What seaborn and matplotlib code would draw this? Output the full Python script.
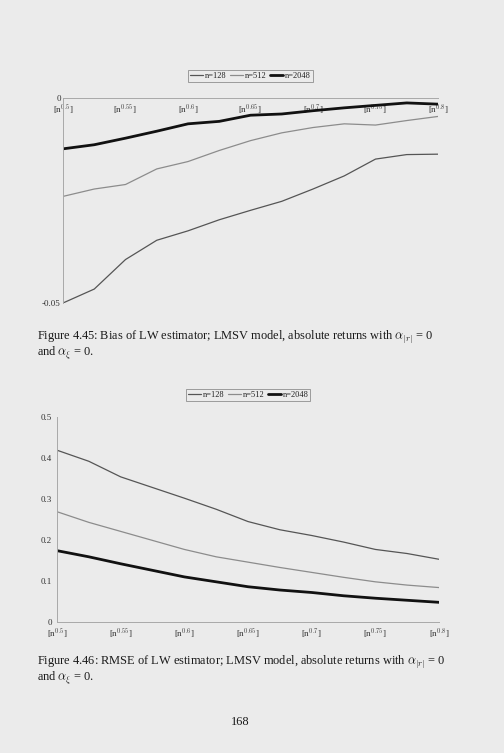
import numpy as np
import pandas as pd
import matplotlib
matplotlib.use("Agg")
import matplotlib.pyplot as plt
import seaborn as sns

# ---------------- data ----------------
exponents = [0.5, 0.525, 0.55, 0.575, 0.6, 0.625, 0.65, 0.675, 0.7, 0.725, 0.75, 0.775, 0.8]
xtick_vals = [0.5, 0.55, 0.6, 0.65, 0.7, 0.75, 0.8]
xtick_labels = ["[n$^{0.5}$]", "[n$^{0.55}$]", "[n$^{0.6}$]", "[n$^{0.65}$]",
                "[n$^{0.7}$]", "[n$^{0.75}$]", "[n$^{0.8}$]"]
series_names = ["n=128", "n=512", "n=2048"]

bias_128 = [-0.0500, -0.0466, -0.0394, -0.0347, -0.0324, -0.0297, -0.0274,
            -0.0252, -0.0222, -0.0190, -0.0149, -0.0138, -0.0137]
bias_512 = [-0.0240, -0.0222, -0.0211, -0.0173, -0.0155, -0.0128, -0.0104,
            -0.0085, -0.0072, -0.0063, -0.0066, -0.0055, -0.0045]
bias_2048 = [-0.0124, -0.0114, -0.0098, -0.0081, -0.0063, -0.0057, -0.0042,
             -0.0039, -0.0031, -0.0024, -0.0018, -0.0012, -0.0015]

rmse_128 = [0.419, 0.392, 0.354, 0.328, 0.302, 0.275, 0.245,
            0.225, 0.211, 0.195, 0.177, 0.167, 0.153]
rmse_512 = [0.269, 0.243, 0.221, 0.199, 0.177, 0.159, 0.146,
            0.133, 0.121, 0.109, 0.098, 0.090, 0.084]
rmse_2048 = [0.174, 0.159, 0.142, 0.126, 0.110, 0.098, 0.086,
             0.078, 0.072, 0.064, 0.058, 0.053, 0.048]

bias_yticks = [-0.05, 0]
bias_ylabels = ["-0.05", "0"]
rmse_yticks = [0, 0.1, 0.2, 0.3, 0.4, 0.5]
rmse_ylabels = ["0", "0.1", "0.2", "0.3", "0.4", "0.5"]

caption1_a = "Figure 4.45: Bias of LW estimator; LMSV model, absolute returns with $\\alpha_{|r|}$ = 0"
caption1_b = "and $\\alpha_{\\xi}$ = 0."
caption2_a = "Figure 4.46: RMSE of LW estimator; LMSV model, absolute returns with $\\alpha_{|r|}$ = 0"
caption2_b = "and $\\alpha_{\\xi}$ = 0."
page_number = "168"

# ---------------- style ----------------
sns.set_theme(style="white")
plt.rcParams["font.family"] = ["Liberation Serif", "DejaVu Serif"]
plt.rcParams["mathtext.fontset"] = "cm"

BG = "#ebebeb"
SPINE = "#a8a8a8"
styles = {
    "n=128": dict(color="#555555", lw=0.9),
    "n=512": dict(color="#8c8c8c", lw=0.9),
    "n=2048": dict(color="#111111", lw=2.0),
}

W, H = 504, 753
fig = plt.figure(figsize=(W / 100, H / 100), dpi=100, facecolor=BG)


def px_axes(left, right, top, bottom):
    return fig.add_axes([left / W, 1 - bottom / H, (right - left) / W, (bottom - top) / H])


def draw(ax, ys):
    ax.set_facecolor(BG)
    df = pd.DataFrame({
        "x": exponents * 3,
        "y": ys[0] + ys[1] + ys[2],
        "n": [s for s in series_names for _ in exponents],
    })
    for name in series_names:
        sub = df[df["n"] == name]
        sns.lineplot(data=sub, x="x", y="y", ax=ax, label=name, **styles[name])
    ax.set_xlim(exponents[0], exponents[-1])
    ax.set_xticks(xtick_vals)
    ax.set_xticklabels(xtick_labels)
    ax.set_xlabel("")
    ax.set_ylabel("")
    for s in ["top", "right"]:
        ax.spines[s].set_visible(False)
    for s in ["left", "bottom"]:
        ax.spines[s].set_color(SPINE)
        ax.spines[s].set_linewidth(0.7)
    ax.tick_params(axis="both", which="both", direction="out", length=2, width=0.6,
                   color=SPINE, labelsize=6.5, labelcolor="#333333", pad=1.5)
    leg = ax.legend(loc="lower center", bbox_to_anchor=(0.5, 1.0 + 16 / ((ax.get_position().height) * H)),
                    ncol=3, fontsize=6, frameon=True, fancybox=False,
                    handlelength=1.6, handletextpad=0.2, columnspacing=0.4,
                    borderpad=0.25, borderaxespad=0)
    leg.get_frame().set_edgecolor("#777777")
    leg.get_frame().set_facecolor(BG)
    leg.get_frame().set_linewidth(0.6)
    for t in leg.get_texts():
        t.set_color("#222222")


# top chart: bias
ax1 = px_axes(63, 438, 98, 303)
draw(ax1, [bias_128, bias_512, bias_2048])
ax1.set_ylim(-0.05, 0)
ax1.spines["bottom"].set_position(("data", 0))
ax1.set_yticks(bias_yticks)
ax1.set_yticklabels(bias_ylabels)
ax1.tick_params(axis="y", length=0)

# bottom chart: rmse
ax2 = px_axes(57, 439, 417, 622)
draw(ax2, [rmse_128, rmse_512, rmse_2048])
ax2.set_ylim(0, 0.5)
ax2.set_yticks(rmse_yticks)
ax2.set_yticklabels(rmse_ylabels)

# captions
cap_kw = dict(fontsize=8.95, color="#1a1a1a", ha="left", va="center")
fig.text(37 / W, 1 - 337 / H, caption1_a, **cap_kw)
fig.text(37 / W, 1 - 353 / H, caption1_b, **cap_kw)
fig.text(37 / W, 1 - 662 / H, caption2_a, **cap_kw)
fig.text(37 / W, 1 - 678 / H, caption2_b, **cap_kw)
fig.text(240 / W, 1 - 722 / H, page_number, fontsize=8.95, color="#1a1a1a", ha="center", va="center")

fig.savefig("out.png", dpi=100, facecolor=BG)
